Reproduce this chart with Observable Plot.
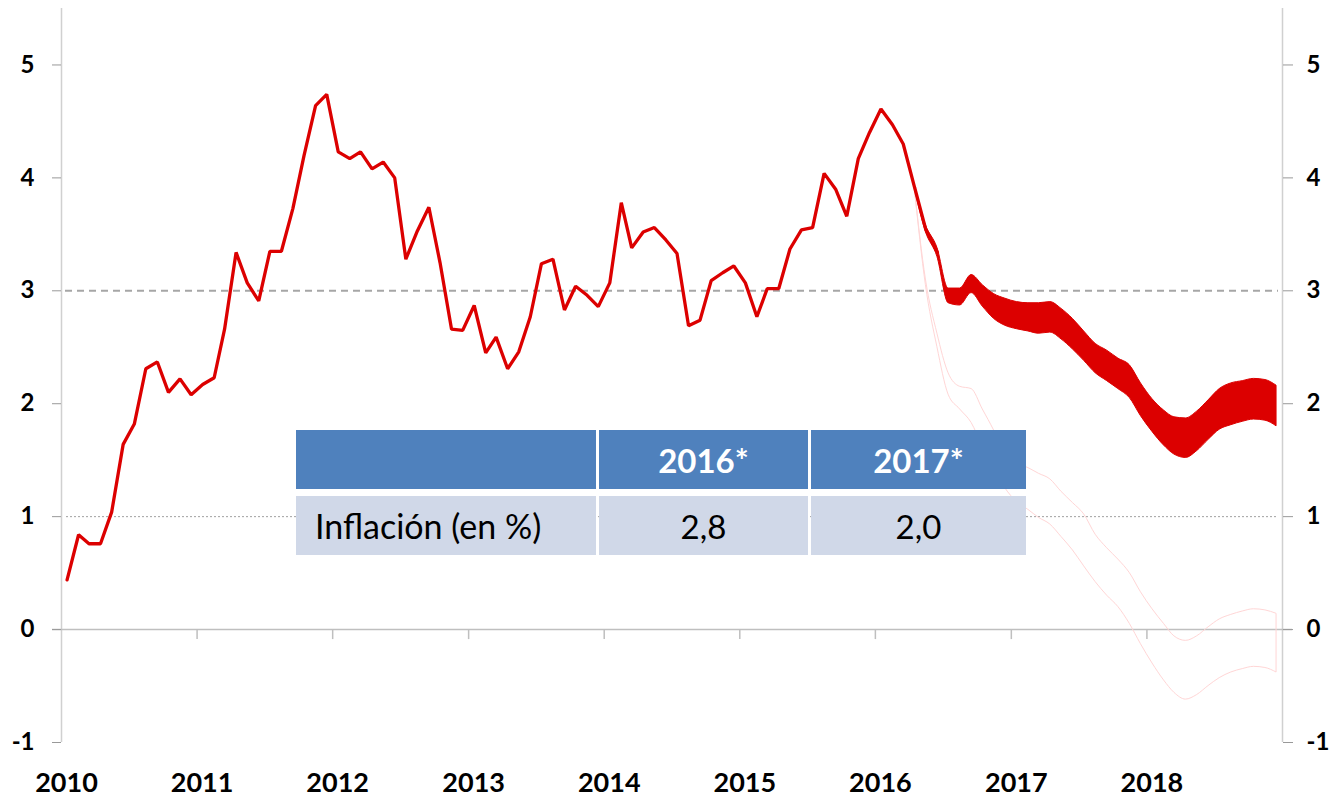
<!DOCTYPE html>
<html><head><meta charset="utf-8">
<script src="https://cdn.jsdelivr.net/npm/d3@7"></script>
<script src="https://cdn.jsdelivr.net/npm/@observablehq/plot@0.6"></script>
<style>
body{margin:0;background:#fff;}
#wrap{position:relative;width:1331px;height:797px;font-family:Lato,"Open Sans",sans-serif;}
#tbl{position:absolute;left:296px;top:430px;display:grid;grid-template-columns:300px 209px 215px;grid-template-rows:59px 59px;column-gap:3px;row-gap:7px;}
#tbl div{box-sizing:border-box;display:flex;align-items:center;justify-content:center;font-size:33px;}
#tbl .h{background:#4f81bd;color:#fff;font-weight:bold;}
#tbl .c{background:#d0d8e8;color:#000;}
#tbl .first{justify-content:flex-start;padding-left:19px;font-size:34px;}
</style></head>
<body>
<div id="wrap"><div id="chart"></div><div id="tbl"></div></div>
<script>
// Monthly 12-month inflation (%), from Jan 2010 to Jun 2016
const inflation = [
  0.44, 0.84, 0.76, 0.76, 1.04, 1.64, 1.82, 2.31, 2.37, 2.10, 2.22, 2.08,
  2.17, 2.23, 2.66, 3.34, 3.07, 2.91, 3.35, 3.35, 3.73, 4.20, 4.64, 4.74,
  4.23, 4.17, 4.23, 4.08, 4.14, 4.00, 3.28, 3.53, 3.74, 3.25, 2.66, 2.65,
  2.87, 2.45, 2.59, 2.31, 2.46, 2.77, 3.24, 3.28, 2.83, 3.04, 2.96, 2.86,
  3.07, 3.78, 3.38, 3.52, 3.56, 3.45, 3.33, 2.69, 2.74, 3.09, 3.16, 3.22,
  3.07, 2.77, 3.02, 3.02, 3.37, 3.54, 3.56, 4.04, 3.90, 3.66, 4.17, 4.40,
  4.61, 4.47, 4.30, 3.91, 3.54, 3.34
];
// Forecast fan, monthly from Apr 2016 to Dec 2018
const fanStart = 75; // month index of Apr 2016 counted from Jan 2010
const bandLow = [3.91, 3.52, 3.30, 2.89, 2.87, 2.98, 2.86, 2.75, 2.69, 2.66, 2.64, 2.62, 2.63, 2.57, 2.48, 2.38, 2.27, 2.20, 2.13, 2.05, 1.89, 1.75, 1.63, 1.55, 1.52, 1.58, 1.68, 1.77, 1.81, 1.84, 1.86, 1.85, 1.80];
const bandHigh = [3.91, 3.58, 3.38, 3.02, 3.02, 3.14, 3.05, 2.97, 2.93, 2.90, 2.89, 2.89, 2.90, 2.84, 2.75, 2.64, 2.53, 2.47, 2.40, 2.34, 2.18, 2.04, 1.94, 1.88, 1.87, 1.93, 2.03, 2.13, 2.18, 2.20, 2.22, 2.21, 2.16];
const outerHigh = [3.91, 3.10, 2.62, 2.27, 2.15, 2.13, 1.95, 1.76, 1.55, 1.47, 1.43, 1.38, 1.33, 1.22, 1.12, 1.02, 0.84, 0.72, 0.62, 0.50, 0.33, 0.18, 0.05, -0.06, -0.10, -0.06, 0.02, 0.09, 0.13, 0.16, 0.18, 0.17, 0.14];
const outerLow = [3.91, 3.05, 2.50, 2.08, 1.95, 1.83, 1.62, 1.42, 1.25, 1.13, 1.06, 0.99, 0.93, 0.82, 0.70, 0.56, 0.42, 0.30, 0.20, 0.05, -0.13, -0.30, -0.45, -0.56, -0.62, -0.58, -0.50, -0.43, -0.38, -0.35, -0.33, -0.34, -0.38];
const yearLabels = [2010, 2011, 2012, 2013, 2014, 2015, 2016, 2017, 2018];
const yTicks = [-1, 0, 1, 2, 3, 4, 5];
const targetLine = 3;
const lowerLine = 1;
const tableHeader = ["", "2016*", "2017*"];
const tableRow = ["Inflación (en %)", "2,8", "2,0"];

const monthDate = i => new Date(Date.UTC(2010, i, 16));
const yearDate = y => new Date(Date.UTC(y, 0, 1));
const actual = inflation.map((v, i) => ({date: monthDate(i), v}));
const fan = bandLow.map((lo, k) => ({date: monthDate(fanStart + k), lo, hi: bandHigh[k], olo: outerLow[k], ohi: outerHigh[k]}));
const xDomain = [yearDate(2010), yearDate(2019)];
const red = "#dc0000";

const chart = Plot.plot({
  width: 1331, height: 797,
  marginLeft: 61, marginRight: 49, marginTop: 8, marginBottom: 55,
  style: {fontFamily: "Lato, 'Open Sans', sans-serif", background: "#fff"},
  x: {type: "utc", domain: xDomain, label: null},
  y: {domain: [-1, 5.5], label: null},
  marks: [
    Plot.ruleY([targetLine], {stroke: "#a6a6a6", strokeWidth: 2, strokeDasharray: "7,5", insetLeft: 4, insetRight: 4}),
    Plot.ruleY([lowerLine], {stroke: "#a0a0a0", strokeWidth: 1, strokeDasharray: "2,2", insetLeft: 5, insetRight: 4}),
    Plot.ruleX(xDomain, {stroke: "#d0d0d0", strokeWidth: 1.5}),
    Plot.ruleY([0], {stroke: "#bfbfbf", strokeWidth: 1.5, insetLeft: -9, insetRight: -10}),
    Plot.ruleX(yearLabels.slice(1).map(yearDate), {y1: 0, y2: 0, insetBottom: -10, stroke: "#bfbfbf", strokeWidth: 1.5}),
    Plot.areaY(fan, {x: "date", y1: "olo", y2: "ohi", fill: "none", stroke: "#ffd6d6", strokeWidth: 1, curve: "monotone-x"}),
    Plot.areaY(fan, {x: "date", y1: "lo", y2: "hi", fill: red, stroke: red, strokeWidth: 1, curve: "monotone-x"}),
    Plot.lineY(actual, {x: "date", y: "v", stroke: red, strokeWidth: 3.3, strokeLinejoin: "miter"}),
    Plot.axisY({anchor: "left", ticks: yTicks, tickFormat: d => String(d), tickSize: 9, tickPadding: 18, stroke: "#999", fill: "#000", fontSize: 24, fontWeight: "bold"}),
    Plot.axisY({anchor: "right", ticks: yTicks, tickFormat: d => String(d), tickSize: 10, tickPadding: 14, stroke: "#999", fill: "#000", fontSize: 24, fontWeight: "bold"}),
    Plot.axisX({ticks: yearLabels.map(yearDate), tickFormat: d3.utcFormat("%Y"), tickSize: 0, tickPadding: 30, fontSize: 27, fontWeight: "bold", fill: "#000", dx: 5})
  ]
});
document.getElementById("chart").appendChild(chart);

const tbl = document.getElementById("tbl");
tableHeader.forEach(t => { const d = document.createElement("div"); d.className = "h"; d.textContent = t; tbl.appendChild(d); });
tableRow.forEach((t, i) => { const d = document.createElement("div"); d.className = "c" + (i === 0 ? " first" : ""); d.textContent = t; tbl.appendChild(d); });
</script>
</body></html>
